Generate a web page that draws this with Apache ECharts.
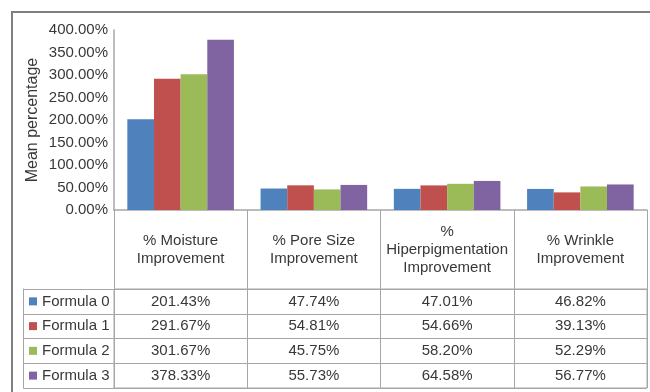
<!DOCTYPE html>
<html>
<head>
<meta charset="utf-8">
<script src="https://cdn.jsdelivr.net/npm/echarts@6/dist/echarts.min.js"></script>
<style>
  html, body { margin: 0; padding: 0; background: #fff; }
  #chart { width: 650px; height: 392px; }
</style>
</head>
<body>
<div id="chart"></div>
<script>
// Improvement categories (column headers of the data table)
const categories = [
  '% Moisture\nImprovement',
  '% Pore Size\nImprovement',
  '%\nHiperpigmentation\nImprovement',
  '% Wrinkle\nImprovement'
];

// Mean percentage improvement per formula
const formulaNames = ['Formula 0', 'Formula 1', 'Formula 2', 'Formula 3'];
const formula0 = [201.43, 47.74, 47.01, 46.82];
const formula1 = [291.67, 54.81, 54.66, 39.13];
const formula2 = [301.67, 45.75, 58.20, 52.29];
const formula3 = [378.33, 55.73, 64.58, 56.77];

// Value axis ticks
const yMin = 0;
const yMax = 400;
const yStep = 50;

const colors = ['#4F81BD', '#C0504D', '#9BBB59', '#8064A2'];
const seriesValues = [formula0, formula1, formula2, formula3];

const FONT = '"Liberation Sans", Arial, sans-serif';
const TEXT = '#383838';
const LINE = '#a6a6a6';

// Cells of the data table: [category index, formula index, value]
const tableCells = [];
seriesValues.forEach((vals, r) => {
  vals.forEach((v, c) => tableCells.push([c, r, v]));
});

// Legend keys drawn in front of the formula names
const richKeys = {};
colors.forEach((col, i) => {
  richKeys['k' + i] = { width: 8, height: 8, backgroundColor: col };
});
richKeys.t = { fontSize: 15, fontFamily: FONT, color: TEXT, padding: [0, 0, 0, 5] };

const chart = echarts.init(document.getElementById('chart'), null, { renderer: 'canvas' });

const option = {
  animation: false,
  backgroundColor: '#ffffff',
  textStyle: { fontFamily: FONT },
  graphic: [{
    type: 'rect',
    shape: { x: 12, y: 12, width: 700, height: 500 },
    style: { fill: 'none', stroke: '#7f7f7f', lineWidth: 2 },
    silent: true
  }],
  grid: [
    { left: 114, right: 3, top: 30, bottom: 182, containLabel: false },
    { left: 114, right: 3, top: 289, height: 99, show: true,
      borderColor: LINE, borderWidth: 1, backgroundColor: 'transparent' }
  ],
  xAxis: [
    {
      type: 'category',
      gridIndex: 0,
      data: categories,
      axisLine: { show: true, lineStyle: { color: LINE, width: 1.5 } },
      axisTick: { show: true, alignWithLabel: false, length: 178,
        lineStyle: { color: LINE, width: 1 } },
      axisLabel: { interval: 0, margin: 40, verticalAlign: 'middle', lineHeight: 18,
        fontSize: 15, fontFamily: FONT, color: TEXT, align: 'center' },
      splitLine: { show: false }
    },
    {
      type: 'category',
      gridIndex: 1,
      data: categories,
      axisLine: { show: false },
      axisTick: { show: false },
      axisLabel: { show: false },
      splitLine: { show: false }
    }
  ],
  yAxis: [
    {
      type: 'value',
      gridIndex: 0,
      min: yMin,
      max: yMax,
      interval: yStep,
      name: 'Mean percentage',
      nameLocation: 'middle',
      nameRotate: 90,
      nameGap: 73,
      nameMoveOverlap: false,
      nameTextStyle: { fontSize: 16, fontFamily: FONT, color: TEXT },
      axisLine: { show: true, lineStyle: { color: LINE, width: 1.5 } },
      axisTick: { show: false },
      splitLine: { show: false },
      axisLabel: { margin: 6, fontSize: 15, fontFamily: FONT, color: TEXT,
        formatter: v => v.toFixed(2) + '%' }
    },
    {
      type: 'category',
      gridIndex: 1,
      inverse: true,
      data: formulaNames,
      axisLine: { show: false },
      axisTick: { show: true, alignWithLabel: false, length: 90.5,
        lineStyle: { color: LINE, width: 1 } },
      splitLine: { show: true, lineStyle: { color: LINE, width: 1 } },
      axisLabel: {
        align: 'left',
        margin: 85,
        formatter: (v, i) => '{k' + i + '|}{t|' + v + '}',
        rich: richKeys
      }
    },
    {
      type: 'value',
      gridIndex: 1,
      position: 'left',
      offset: 90.5,
      axisLine: { show: true, lineStyle: { color: LINE, width: 1 } },
      axisTick: { show: false },
      axisLabel: { show: false },
      splitLine: { show: false }
    }
  ],
  series: [
    ...seriesValues.map((vals, i) => ({
      name: formulaNames[i],
      type: 'bar',
      xAxisIndex: 0,
      yAxisIndex: 0,
      data: vals,
      barGap: '0%',
      barCategoryGap: '20%',
      itemStyle: { color: colors[i] }
    })),
    {
      type: 'custom',
      xAxisIndex: 1,
      yAxisIndex: 1,
      data: tableCells,
      renderItem: (params, api) => {
        const p = api.coord([api.value(0), api.value(1)]);
        return {
          type: 'text',
          x: p[0],
          y: p[1],
          style: {
            text: api.value(2).toFixed(2) + '%',
            align: 'center',
            verticalAlign: 'middle',
            fontSize: 15,
            fontFamily: FONT,
            fill: TEXT
          }
        };
      }
    }
  ]
};

chart.setOption(option);
</script>
</body>
</html>
